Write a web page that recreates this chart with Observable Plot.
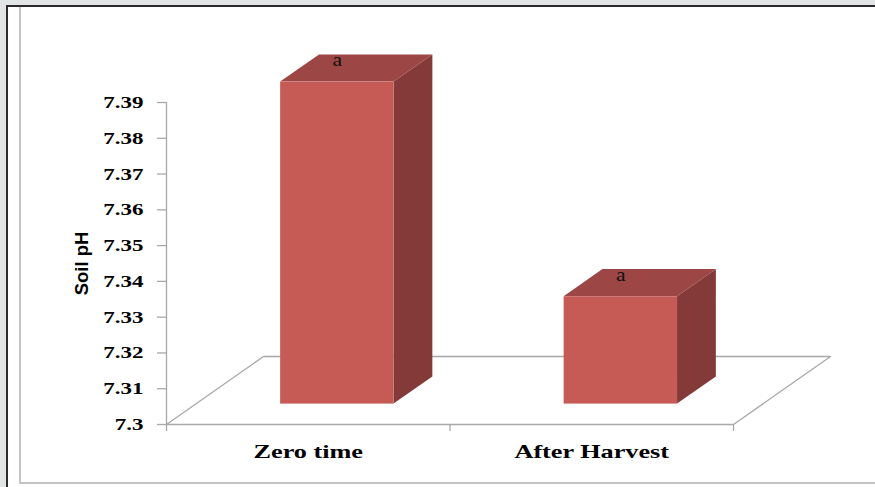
<!DOCTYPE html>
<html>
<head>
<meta charset="utf-8">
<script src="https://cdn.jsdelivr.net/npm/d3@7"></script>
<script src="https://cdn.jsdelivr.net/npm/@observablehq/plot@0.6"></script>
<style>
  html, body { margin: 0; padding: 0; }
  body { width: 875px; height: 487px; overflow: hidden; background: #e1e5e6; }
  #sheet {
    position: absolute; left: 6px; top: 5px; right: -10px; bottom: -10px;
    background: #ffffff; border-left: 2px solid #2b2b2b; border-top: 2px solid #2b2b2b;
  }
  #inner {
    position: absolute; left: 11px; top: 0; right: 0; height: 475px;
    border-left: 2px solid #c4c4c4; border-bottom: 2px solid #c4c4c4;
  }
  #chart { position: absolute; left: 0; top: 0; }
</style>
</head>
<body>
<div id="sheet"><div id="inner"></div></div>
<div id="chart"></div>
<script>
// Soil pH at the start of the trial and after harvest
const categories = ["Zero time", "After Harvest"];
const soilPH = [7.39, 7.33];
const letters = ["a", "a"];
const yTicks = [7.3, 7.31, 7.32, 7.33, 7.34, 7.35, 7.36, 7.37, 7.38, 7.39];
const yTickLabels = yTicks.map(d => String(d));

// Layout
const W = 875, H = 487;
const mL = 166, mR = 142, mT = 102, mB = 63;

// Oblique 3-D geometry, in scale units
const base = 7.3;                    // floor level
const yMax = yTicks[yTicks.length - 1];
const xMin = -0.5, xMax = categories.length - 0.5;
const unitX = (xMax - xMin) / (W - mL - mR);   // one pixel in category units
const unitY = (yMax - base) / (H - mT - mB);   // one pixel in pH units
const depthX = 97 * unitX;           // horizontal shift of the floor's back edge
const depthY = 68 * unitY;           // vertical shift of the floor's back edge
const front = 0.3, back = 0.7;       // bar depth as a fraction of the floor depth
const halfWidth = 0.2;               // half the bar width (category units)

const frontColor = "#c65b56";
const topColor = "#9c4745";
const sideColor = "#843a38";
const gridGray = "#a8a8a8";

const floor = [
  {x: xMin, y: base},
  {x: xMin + depthX, y: base + depthY},
  {x: xMax + depthX, y: base + depthY},
  {x: xMax, y: base},
  {x: xMin, y: base}
];

const frontFaces = categories.map((c, i) => ({
  c,
  x1: i - halfWidth + front * depthX,
  x2: i + halfWidth + front * depthX,
  y1: base + front * depthY,
  y2: soilPH[i] + front * depthY
}));

const sideFaces = categories.flatMap((c, i) => [front, back].map(d => ({
  c,
  x: i + halfWidth + d * depthX,
  y1: base + d * depthY,
  y2: soilPH[i] + d * depthY
})));

const topFaces = categories.flatMap((c, i) => [front, back].map(d => ({
  c,
  y: soilPH[i] + d * depthY,
  x1: i - halfWidth + d * depthX,
  x2: i + halfWidth + d * depthX
})));

const letterLabels = categories.map((c, i) => ({
  x: i + front * depthX,
  y: soilPH[i] + front * depthY,
  t: letters[i]
}));

const xTicks = d3.range(categories.length + 1).map(i => xMin + i);

const serif = "'Liberation Serif', 'Times New Roman', serif";

const chart = Plot.plot({
  width: W,
  height: H,
  marginLeft: mL,
  marginRight: mR,
  marginTop: mT,
  marginBottom: mB,
  style: {background: "transparent", overflow: "visible"},
  x: {type: "linear", domain: [xMin, xMax], axis: null},
  y: {domain: [base, yMax], axis: null},
  marks: [
    // floor and value axis
    Plot.line(floor, {x: "x", y: "y", stroke: gridGray, strokeWidth: 1.3}),
    Plot.ruleX([xMin], {y1: base, y2: yMax, stroke: gridGray, strokeWidth: 1.3}),
    Plot.ruleY(yTicks, {x1: xMin - 9 * unitX, x2: xMin, stroke: gridGray, strokeWidth: 1.3}),
    Plot.ruleX(xTicks, {y1: base - 7 * unitY, y2: base, stroke: gridGray, strokeWidth: 1.3}),
    Plot.text(yTicks, {
      y: d => d, frameAnchor: "left", dx: -23, textAnchor: "end",
      text: (d, i) => yTickLabels[i],
      fontSize: 17, fontFamily: serif, fontWeight: "bold", fill: "#000"
    }),
    Plot.text(categories, {
      x: (d, i) => i, y: () => base, dy: 27, text: d => d,
      fontSize: 19, fontFamily: serif, fontWeight: "bold", fill: "#000"
    }),
    Plot.text(["Soil pH"], {
      frameAnchor: "left", dx: -84, rotate: -90, textAnchor: "middle", text: d => d,
      fontSize: 18.5, fontWeight: "bold", fill: "#000",
      fontFamily: "'Liberation Sans', Arial, sans-serif"
    }),
    // bars
    Plot.areaY(sideFaces, {x: "x", y1: "y1", y2: "y2", z: "c", fill: sideColor}),
    Plot.areaX(topFaces, {y: "y", x1: "x1", x2: "x2", z: "c", fill: topColor}),
    Plot.rect(frontFaces, {x1: "x1", x2: "x2", y1: "y1", y2: "y2", fill: frontColor}),
    Plot.text(letterLabels, {
      x: "x", y: "y", dy: -22, text: "t",
      fontSize: 18, fontFamily: serif, fill: "#111"
    })
  ]
});

document.getElementById("chart").appendChild(chart);

// Widen the serif glyphs horizontally
const widen = new Map([
  ...yTickLabels.map(s => [s, 1.35]),
  ...categories.map(s => [s, 1.38]),
  ...letters.map(s => [s, 1.2])
]);
chart.querySelectorAll("text").forEach(t => {
  const f = widen.get(t.textContent);
  if (!f) return;
  const w = t.getComputedTextLength();
  t.setAttribute("textLength", (w * f).toFixed(1));
  t.setAttribute("lengthAdjust", "spacingAndGlyphs");
});
</script>
</body>
</html>
